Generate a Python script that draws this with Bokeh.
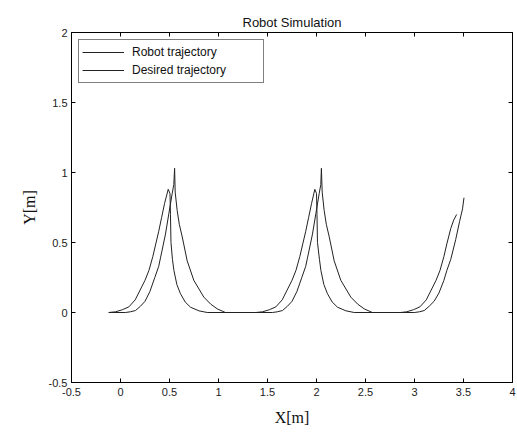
from bokeh.plotting import figure
from bokeh.models import LinearAxis, FixedTicker, Range1d, Legend, LegendItem
from bokeh.embed import file_html
from bokeh.resources import INLINE

# ---- data ----
x_ticks = [-0.5, 0, 0.5, 1, 1.5, 2, 2.5, 3, 3.5, 4]
x_tick_labels = ["-0.5", "0", "0.5", "1", "1.5", "2", "2.5", "3", "3.5", "4"]
y_ticks = [-0.5, 0, 0.5, 1, 1.5, 2]
y_tick_labels = ["-0.5", "0", "0.5", "1", "1.5", "2"]

robot_x = [-0.12, 0.05, 0.1, 0.153, 0.204, 0.25, 0.3, 0.35, 0.39, 0.408, 0.459, 0.493, 0.527, 0.544,
           0.552, 0.558, 0.578, 0.60, 0.63, 0.68, 0.748, 0.85, 0.92, 0.987, 1.07,
           1.55, 1.6, 1.653, 1.704, 1.75, 1.8, 1.85, 1.89, 1.908, 1.959, 1.993, 2.027, 2.044,
           2.05, 2.058, 2.078, 2.10, 2.13, 2.18, 2.248, 2.35, 2.42, 2.487, 2.57,
           3.0, 3.05, 3.1, 3.15, 3.2, 3.25, 3.30, 3.33, 3.37, 3.42, 3.46, 3.49, 3.505]
robot_y = [0.0, 0.0, 0.005, 0.014, 0.045, 0.08, 0.15, 0.25, 0.33, 0.39, 0.56, 0.705, 0.848, 0.914,
           1.03, 0.86, 0.73, 0.63, 0.54, 0.37, 0.23, 0.11, 0.06, 0.026, 0.0,
           0.0, 0.005, 0.014, 0.045, 0.08, 0.15, 0.25, 0.33, 0.39, 0.56, 0.705, 0.848, 0.914,
           1.03, 0.86, 0.73, 0.63, 0.54, 0.37, 0.23, 0.11, 0.06, 0.026, 0.0,
           0.0, 0.005, 0.014, 0.045, 0.08, 0.14, 0.23, 0.30, 0.38, 0.52, 0.65, 0.74, 0.82]

desired_x = [-0.12, -0.05, 0.02, 0.085, 0.15, 0.2, 0.25, 0.29, 0.33, 0.36, 0.39, 0.42, 0.45, 0.487,
             0.505, 0.51, 0.515, 0.53, 0.545, 0.575, 0.612, 0.66, 0.714, 0.8, 0.885,
             1.38, 1.45, 1.52, 1.585, 1.65, 1.7, 1.75, 1.79, 1.83, 1.86, 1.89, 1.92, 1.95, 1.983,
             2.0, 2.005, 2.01, 2.03, 2.045, 2.075, 2.112, 2.16, 2.214, 2.3, 2.385,
             2.86, 2.92, 2.99, 3.055, 3.12, 3.17, 3.22, 3.26, 3.30, 3.33, 3.37, 3.40, 3.43]
desired_y = [0.0, 0.005, 0.02, 0.04, 0.09, 0.16, 0.23, 0.30, 0.40, 0.49, 0.58, 0.68, 0.78, 0.88,
             0.85, 0.70, 0.50, 0.38, 0.30, 0.20, 0.134, 0.075, 0.038, 0.012, 0.0,
             0.0, 0.005, 0.02, 0.04, 0.09, 0.16, 0.23, 0.30, 0.40, 0.49, 0.58, 0.68, 0.78, 0.88,
             0.85, 0.70, 0.50, 0.38, 0.30, 0.20, 0.134, 0.075, 0.038, 0.012, 0.0,
             0.0, 0.005, 0.02, 0.04, 0.09, 0.16, 0.23, 0.30, 0.40, 0.49, 0.60, 0.66, 0.70]

SANS = "Liberation Sans"
SERIF = "Liberation Serif"

p = figure(width=517, height=435, x_range=Range1d(-0.5, 4), y_range=Range1d(-0.5, 2),
           output_backend="svg", toolbar_location=None, title="Robot Simulation",
           min_border_left=71, min_border_right=5, min_border_top=32, min_border_bottom=53)
p.background_fill_color = "white"
p.border_fill_color = "white"
p.outline_line_color = "black"
p.grid.visible = False

p.title.text_font = SANS
p.title.text_font_size = "13px"
p.title.text_font_style = "normal"
p.title.text_color = "#111111"
p.title.align = "center"
p.title.standoff = 6

r1 = p.line(robot_x, robot_y, line_color="#222222", line_width=1)
r2 = p.line(desired_x, desired_y, line_color="#222222", line_width=1)


def style_axis(ax, ticks, labels, show_labels=True):
    ax.ticker = FixedTicker(ticks=ticks)
    ax.major_tick_in = 4
    ax.major_tick_out = 0
    ax.minor_tick_line_color = None
    ax.axis_line_color = "black"
    ax.major_tick_line_color = "black"
    if show_labels:
        ax.major_label_overrides = {t: l for t, l in zip(ticks, labels)}
        ax.major_label_text_font = SANS
        ax.major_label_text_font_size = "11px"
        ax.major_label_text_color = "#222222"
    else:
        ax.major_label_overrides = {t: "" for t in ticks}
        ax.major_label_standoff = 0


style_axis(p.xaxis[0], x_ticks, x_tick_labels)
style_axis(p.yaxis[0], y_ticks, y_tick_labels)
p.xaxis[0].major_label_standoff = 5
p.yaxis[0].major_label_standoff = 4

for ax, lbl in ((p.xaxis[0], "X[m]"), (p.yaxis[0], "Y[m]")):
    ax.axis_label = lbl
    ax.axis_label_text_font = SERIF
    ax.axis_label_text_font_size = "16px"
    ax.axis_label_text_font_style = "normal"
    ax.axis_label_text_color = "#111111"
p.xaxis[0].axis_label_standoff = 10
p.yaxis[0].axis_label_standoff = 8

top_ax = LinearAxis()
style_axis(top_ax, x_ticks, x_tick_labels, show_labels=False)
p.add_layout(top_ax, "above")
right_ax = LinearAxis()
style_axis(right_ax, y_ticks, y_tick_labels, show_labels=False)
p.add_layout(right_ax, "right")

legend = Legend(items=[LegendItem(label="Robot trajectory", renderers=[r1]),
                       LegendItem(label="Desired trajectory", renderers=[r2])],
                location="top_left")
legend.margin = 7
legend.padding = 3
legend.spacing = 0
legend.label_height = 18
legend.glyph_height = 18
legend.glyph_width = 42
legend.label_standoff = 8
legend.label_width = 128
legend.label_text_font = SANS
legend.label_text_font_size = "12px"
legend.label_text_color = "#111111"
legend.border_line_color = "black"
legend.border_line_width = 1
legend.background_fill_color = "white"
legend.background_fill_alpha = 1
p.add_layout(legend)

open("out.html", "w").write(file_html(p, INLINE))
